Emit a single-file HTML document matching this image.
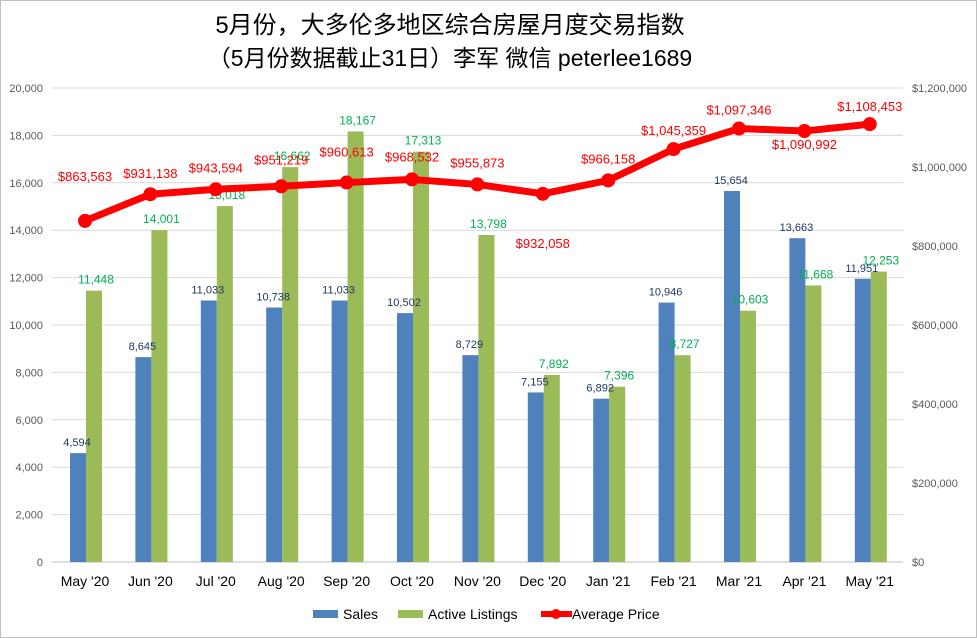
<!DOCTYPE html>
<html><head><meta charset="utf-8"><style>
html,body{margin:0;padding:0;background:#fff}
svg{display:block;font-family:"Liberation Sans","Noto Sans CJK SC",sans-serif}
</style></head><body>
<svg id="c" width="977" height="638" xmlns="http://www.w3.org/2000/svg">
<rect x="0.5" y="0.5" width="976" height="637" fill="#fff" stroke="#bfbfbf"/>
<text x="450" y="33" text-anchor="middle" font-size="24" fill="#000">5月份，大多伦多地区综合房屋月度交易指数</text>
<text x="450" y="66" text-anchor="middle" font-size="23" fill="#000">（5月份数据截止31日）李军 微信 peterlee1689</text>
<g id="g"></g>
<rect x="313" y="610" width="25" height="8" fill="#4f81bd"/>
<text x="343" y="619" font-size="14">Sales</text>
<rect x="398" y="610" width="25" height="8" fill="#9bbb59"/>
<text x="428" y="619" font-size="14">Active Listings</text>
<line x1="541" y1="614" x2="572" y2="614" stroke="#f00" stroke-width="6"/>
<circle cx="556" cy="614" r="5" fill="#f00"/>
<text x="572" y="619" font-size="14">Average Price</text>
</svg>
<script>
var g=document.getElementById('g'),h='';
var S=[4594,8645,11033,10738,11033,10502,8729,7155,6892,10946,15654,13663,11951];
var A=[11448,14001,15018,16662,18167,17313,13798,7892,7396,8727,10603,11668,12253];
var P=[863563,931138,943594,951219,960613,968532,955873,932058,966158,1045359,1097346,1090992,1108453];
var L=["May '20","Jun '20","Jul '20","Aug '20","Sep '20","Oct '20","Nov '20","Dec '20","Jan '21","Feb '21","Mar '21","Apr '21","May '21"];
var off=[-44,-20,-21,-26,-30,-22,-21,50,-21,-18,-18,14,-17];
function fy(v){return 562-v*474/20000}
function py(v){return 562-v*474/1200000}
function f(n){return n.toLocaleString('en-US')}
for(var i=0;i<=10;i++){var y=562-i*47.4;
h+='<line x1="52" x2="903" y1="'+y+'" y2="'+y+'" stroke="#d9d9d9"/>';
h+='<text x="43" y="'+(y+4)+'" font-size="11" text-anchor="end" fill="#595959">'+f(i*2000)+'</text>';}
for(var i=0;i<=6;i++){var y=562-i*79;
h+='<text x="912" y="'+(y+4)+'" font-size="11" fill="#595959">'+(i?'$'+f(i*200000):'$0')+'</text>';}
h+='<line x1="52" x2="903" y1="562" y2="562" stroke="#bfbfbf"/>';
var pts=[];
for(var i=0;i<13;i++){var c=85+i*65.4;
var ys=fy(S[i]),ya=fy(A[i]);
h+='<rect x="'+(c-15)+'" y="'+ys+'" width="16" height="'+(562-ys)+'" fill="#4f81bd"/>';
h+='<rect x="'+(c+1)+'" y="'+ya+'" width="16" height="'+(562-ya)+'" fill="#9bbb59"/>';
h+='<text x="'+(c-8)+'" y="'+(ys-7)+'" font-size="11" text-anchor="middle" fill="#1f3864">'+f(S[i])+'</text>';
h+='<text x="'+(c+11)+'" y="'+(ya-7)+'" font-size="12" text-anchor="middle" fill="#00b050">'+f(A[i])+'</text>';
h+='<text x="'+c+'" y="586" font-size="14" text-anchor="middle" fill="#000">'+L[i]+'</text>';
pts.push([c,py(P[i])]);}
h+='<polyline fill="none" stroke="#f00" stroke-width="7" stroke-linejoin="round" points="'+pts.map(function(p){return p.join(',')}).join(' ')+'"/>';
for(var i=0;i<13;i++){h+='<circle cx="'+pts[i][0]+'" cy="'+pts[i][1]+'" r="7" fill="#f00"/>';
h+='<text x="'+pts[i][0]+'" y="'+(pts[i][1]+off[i]+4)+'" font-size="13" text-anchor="middle" fill="#f00">$'+f(P[i])+'</text>';}
g.innerHTML=h;
</script>
</body></html>
